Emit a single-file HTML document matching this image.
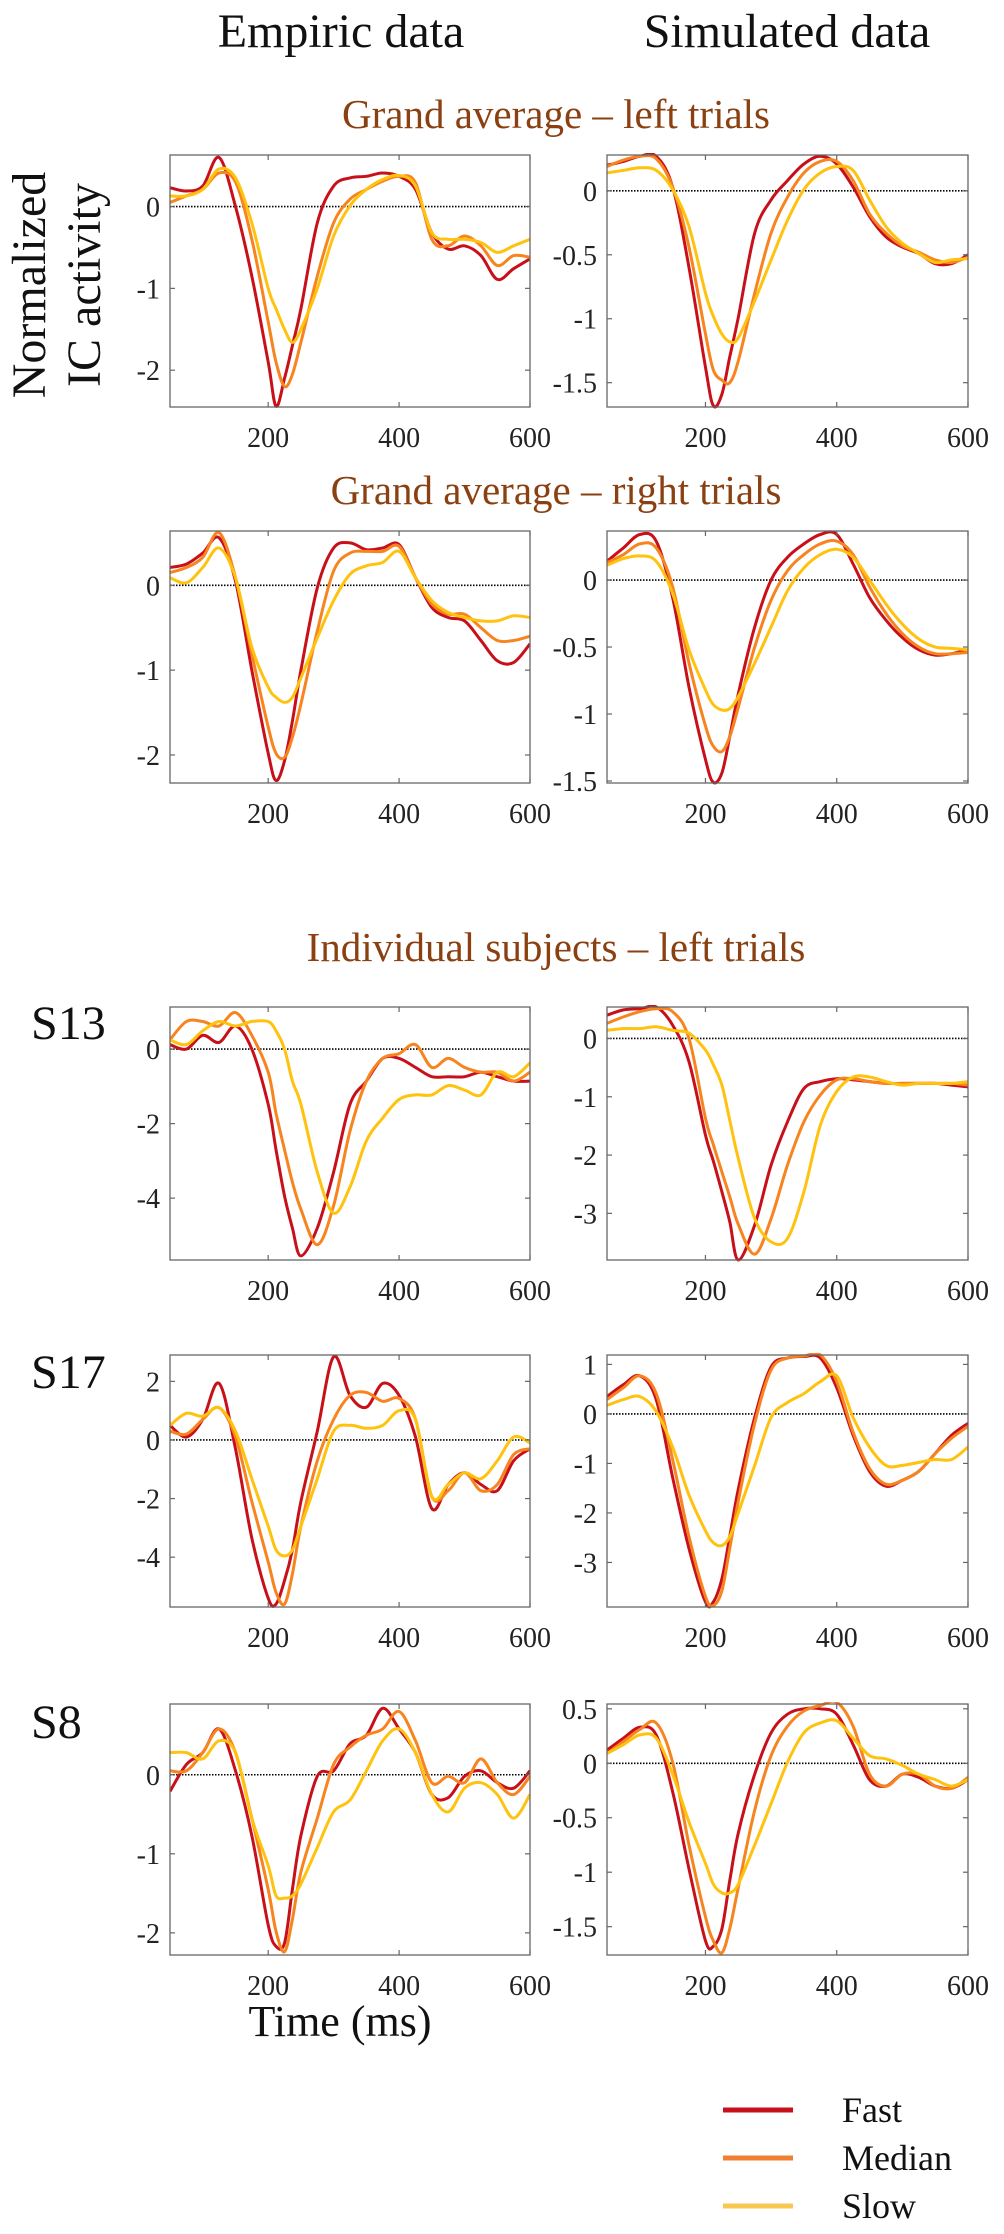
<!DOCTYPE html>
<html><head><meta charset="utf-8"><style>
html,body{margin:0;padding:0;background:#fff;}
svg{display:block;}
text{font-family:"Liberation Serif",serif;}
</style></head><body>
<svg id="fig" width="1004" height="2234" viewBox="0 0 1004 2234" xmlns="http://www.w3.org/2000/svg">
<text x="341" y="47" font-size="48" text-anchor="middle" fill="#111">Empiric data</text>
<text x="787" y="47" font-size="48" text-anchor="middle" fill="#111">Simulated data</text>
<text x="556" y="128" font-size="41" text-anchor="middle" fill="#8a4010">Grand average – left trials</text>
<text x="556" y="504" font-size="41" text-anchor="middle" fill="#8a4010">Grand average – right trials</text>
<text x="556" y="961" font-size="41" text-anchor="middle" fill="#8a4010">Individual subjects – left trials</text>
<text transform="translate(45,285) rotate(-90)" font-size="48" text-anchor="middle" fill="#111">Normalized</text>
<text transform="translate(100,285) rotate(-90)" font-size="48" text-anchor="middle" fill="#111">IC activity</text>
<text x="31" y="1039" font-size="48" fill="#111">S13</text>
<text x="31" y="1388" font-size="48" fill="#111">S17</text>
<text x="31" y="1738" font-size="48" fill="#111">S8</text>
<text x="340" y="2036" font-size="44" text-anchor="middle" fill="#111">Time (ms)</text>
<g>
<line x1="723" y1="2110" x2="793" y2="2110" stroke="#c8101a" stroke-width="5"/>
<text x="842" y="2122" font-size="36" fill="#111">Fast</text>
<line x1="723" y1="2158" x2="793" y2="2158" stroke="#f08030" stroke-width="5"/>
<text x="842" y="2170" font-size="36" fill="#111">Median</text>
<line x1="723" y1="2206" x2="793" y2="2206" stroke="#f8c850" stroke-width="5"/>
<text x="842" y="2218" font-size="36" fill="#111">Slow</text>
</g>
</svg>
<script>
const times = [50,75,100,125,150,175,200,212,225,237,250,275,300,325,350,375,400,425,450,475,500,525,550,575,600];
const xTicks = [200,400,600];
const seriesNames = ["fast","median","slow"];

const gaLeftEmpFast = [0.23,0.19,0.25,0.6,0.0,-0.85,-1.9,-2.44,-2.1,-1.7,-1.25,-0.2,0.25,0.35,0.37,0.41,0.37,0.21,-0.32,-0.52,-0.48,-0.6,-0.89,-0.76,-0.64];
const gaLeftEmpMedian = [0.05,0.13,0.21,0.41,0.3,-0.4,-1.41,-1.9,-2.2,-2.05,-1.66,-0.85,-0.2,0.09,0.21,0.31,0.37,0.29,-0.4,-0.48,-0.36,-0.48,-0.72,-0.6,-0.62];
const gaLeftEmpSlow = [0.13,0.13,0.21,0.46,0.35,-0.2,-1.0,-1.25,-1.5,-1.66,-1.5,-1.0,-0.36,0.01,0.21,0.33,0.38,0.25,-0.32,-0.4,-0.4,-0.44,-0.56,-0.48,-0.4];

const gaLeftSimFast = [0.2,0.23,0.27,0.27,0.03,-0.6,-1.38,-1.68,-1.59,-1.3,-0.99,-0.33,-0.07,0.08,0.21,0.27,0.21,0.03,-0.2,-0.36,-0.44,-0.49,-0.57,-0.57,-0.5];
const gaLeftSimMedian = [0.19,0.24,0.27,0.25,0.03,-0.44,-1.12,-1.4,-1.48,-1.5,-1.33,-0.8,-0.33,-0.05,0.14,0.23,0.23,0.08,-0.18,-0.33,-0.43,-0.48,-0.54,-0.56,-0.52];
const gaLeftSimSlow = [0.14,0.16,0.18,0.16,0.01,-0.28,-0.8,-0.98,-1.12,-1.18,-1.15,-0.86,-0.54,-0.23,0.01,0.14,0.19,0.16,-0.07,-0.28,-0.41,-0.49,-0.56,-0.54,-0.53];

const gaRightEmpFast = [0.21,0.25,0.38,0.56,0.05,-1.0,-1.98,-2.3,-2.07,-1.6,-1.0,-0.03,0.44,0.5,0.42,0.44,0.48,0.09,-0.26,-0.38,-0.42,-0.65,-0.89,-0.91,-0.69];
const gaRightEmpMedian = [0.15,0.21,0.33,0.62,0.09,-0.81,-1.67,-1.98,-2.03,-1.79,-1.4,-0.54,0.17,0.38,0.4,0.4,0.46,0.09,-0.22,-0.34,-0.34,-0.5,-0.65,-0.65,-0.6];
const gaRightEmpSlow = [0.09,0.03,0.21,0.44,0.09,-0.73,-1.2,-1.32,-1.38,-1.32,-1.09,-0.62,-0.18,0.13,0.23,0.27,0.4,0.09,-0.18,-0.32,-0.38,-0.42,-0.42,-0.36,-0.38];

const gaRightSimFast = [0.14,0.24,0.34,0.29,-0.13,-0.8,-1.34,-1.51,-1.44,-1.17,-0.85,-0.35,0,0.17,0.27,0.34,0.34,0.12,-0.13,-0.3,-0.43,-0.52,-0.56,-0.55,-0.52];
const gaRightSimMedian = [0.13,0.19,0.27,0.24,-0.05,-0.62,-1.09,-1.24,-1.28,-1.17,-0.95,-0.5,-0.15,0.07,0.19,0.27,0.29,0.19,-0.05,-0.25,-0.4,-0.5,-0.55,-0.55,-0.54];
const gaRightSimSlow = [0.11,0.16,0.18,0.14,-0.1,-0.52,-0.82,-0.93,-0.97,-0.96,-0.87,-0.62,-0.35,-0.08,0.09,0.19,0.23,0.17,0,-0.18,-0.33,-0.44,-0.5,-0.51,-0.52];

const s13EmpFast = [0.12,0,0.37,0.18,0.62,0,-1.48,-2.7,-3.94,-4.8,-5.55,-4.8,-3.3,-1.48,-0.86,-0.25,-0.25,-0.49,-0.74,-0.74,-0.74,-0.62,-0.74,-0.86,-0.86];
const s13EmpMedian = [0.25,0.74,0.74,0.62,0.98,0.37,-0.62,-1.72,-2.7,-3.57,-4.3,-5.25,-4.2,-2.2,-0.86,-0.25,-0.12,0.12,-0.49,-0.25,-0.49,-0.62,-0.62,-0.86,-0.62];
const s13EmpSlow = [0.25,0.12,0.49,0.74,0.62,0.74,0.74,0.49,0,-0.86,-1.48,-3.3,-4.4,-3.7,-2.46,-1.85,-1.35,-1.23,-1.23,-0.98,-1.1,-1.23,-0.62,-0.74,-0.37];

const s13SimFast = [0.4,0.49,0.51,0.54,0.23,-0.4,-1.66,-2.1,-2.63,-3.14,-3.8,-3.2,-2.17,-1.43,-0.86,-0.74,-0.69,-0.71,-0.74,-0.77,-0.77,-0.77,-0.77,-0.8,-0.83];
const s13SimMedian = [0.26,0.37,0.46,0.51,0.46,0,-1.37,-1.82,-2.29,-2.71,-3.19,-3.7,-3.09,-2.17,-1.43,-0.97,-0.71,-0.69,-0.74,-0.77,-0.77,-0.77,-0.77,-0.77,-0.8];
const s13SimSlow = [0.14,0.17,0.17,0.2,0.14,0.09,-0.2,-0.45,-0.8,-1.4,-2.06,-3.09,-3.49,-3.43,-2.63,-1.49,-0.91,-0.66,-0.66,-0.74,-0.8,-0.77,-0.77,-0.77,-0.74];

const s17EmpFast = [0.5,0.1,0.7,1.93,-0.3,-3.35,-5.4,-5.6,-4.8,-3.75,-2.1,0.3,2.84,1.52,1.12,1.93,1.52,0.1,-2.34,-1.52,-1.12,-1.52,-1.73,-0.71,-0.3];
const s17EmpMedian = [0.3,0.2,0.7,1.1,0.1,-2.1,-4.16,-5.2,-5.6,-4.57,-2.94,-0.71,0.7,1.52,1.62,1.32,1.42,0.71,-1.93,-1.73,-1.12,-1.73,-1.52,-0.5,-0.3];
const s17EmpSlow = [0.5,0.91,0.81,1.1,0.3,-1.32,-2.94,-3.75,-3.96,-3.75,-2.94,-1.32,0.3,0.5,0.4,0.5,1.0,0.7,-1.93,-1.52,-1.12,-1.32,-0.71,0.1,-0.1];

const s17SimFast = [0.35,0.59,0.77,0.29,-1.28,-2.72,-3.8,-3.8,-3.33,-2.48,-1.52,-0.07,0.95,1.13,1.16,1.13,0.53,-0.43,-1.16,-1.46,-1.34,-1.16,-0.8,-0.43,-0.19];
const s17SimMedian = [0.29,0.53,0.77,0.41,-0.92,-2.48,-3.69,-3.87,-3.57,-2.72,-1.76,-0.19,0.89,1.13,1.17,1.19,0.65,-0.37,-1.1,-1.42,-1.34,-1.16,-0.8,-0.49,-0.25];
const s17SimSlow = [0.17,0.29,0.35,0.05,-0.67,-1.64,-2.36,-2.6,-2.66,-2.48,-2.0,-1.04,-0.07,0.23,0.41,0.65,0.77,-0.07,-0.67,-1.04,-1.04,-0.98,-0.92,-0.92,-0.67];

const s8EmpFast = [-0.21,0.13,0.28,0.58,0.05,-0.77,-1.9,-2.17,-2.13,-1.45,-0.77,-0.02,0.05,0.39,0.5,0.84,0.58,0.28,-0.25,-0.29,-0.02,0.05,-0.1,-0.17,0.05];
const s8EmpMedian = [0.05,0.05,0.28,0.58,0.28,-0.55,-1.45,-1.98,-2.24,-1.83,-1.23,-0.55,0.13,0.35,0.5,0.58,0.8,0.43,-0.1,-0.02,-0.1,0.2,-0.1,-0.25,-0.02];
const s8EmpSlow = [0.28,0.28,0.2,0.43,0.28,-0.55,-1.15,-1.53,-1.56,-1.53,-1.38,-0.92,-0.47,-0.32,0.05,0.43,0.58,0.28,-0.25,-0.47,-0.17,-0.1,-0.25,-0.55,-0.25];

const s8SimFast = [0.12,0.23,0.33,0.26,-0.26,-0.97,-1.63,-1.68,-1.52,-1.08,-0.64,-0.1,0.28,0.45,0.5,0.5,0.45,0.17,-0.15,-0.21,-0.1,-0.13,-0.21,-0.23,-0.15];
const s8SimMedian = [0.09,0.2,0.31,0.37,0.01,-0.75,-1.41,-1.63,-1.74,-1.52,-1.14,-0.43,0.07,0.34,0.48,0.53,0.56,0.34,-0.1,-0.21,-0.1,-0.1,-0.21,-0.23,-0.13];
const s8SimSlow = [0.09,0.17,0.26,0.23,-0.1,-0.54,-0.92,-1.11,-1.19,-1.19,-1.11,-0.75,-0.37,0.01,0.28,0.37,0.39,0.23,0.07,0.04,-0.02,-0.1,-0.15,-0.21,-0.15];

const yTicksGaLeftEmp = [0,-1,-2];
const yTicksGaLeftSim = [0,-0.5,-1,-1.5];
const yTicksGaRightEmp = [0,-1,-2];
const yTicksGaRightSim = [0,-0.5,-1,-1.5];
const yTicksS13Emp = [0,-2,-4];
const yTicksS13Sim = [0,-1,-2,-3];
const yTicksS17Emp = [2,0,-2,-4];
const yTicksS17Sim = [1,0,-1,-2,-3];
const yTicksS8Emp = [0,-1,-2];
const yTicksS8Sim = [0.5,0,-0.5,-1,-1.5];

const colors = {fast:"#c8101a", median:"#f7841f", slow:"#ffc20e"};
const NS = "http://www.w3.org/2000/svg";
const svg = document.getElementById('fig');

const panels = [
 {name:"ga-left-empiric", x:170,y:155,w:360,h:252,yMin:-2.45,yMax:0.63,ticks:yTicksGaLeftEmp,s:[gaLeftEmpFast,gaLeftEmpMedian,gaLeftEmpSlow]},
 {name:"ga-left-simulated", x:607,y:155,w:361,h:252,yMin:-1.69,yMax:0.28,ticks:yTicksGaLeftSim,s:[gaLeftSimFast,gaLeftSimMedian,gaLeftSimSlow]},
 {name:"ga-right-empiric", x:170,y:531,w:360,h:252,yMin:-2.33,yMax:0.64,ticks:yTicksGaRightEmp,s:[gaRightEmpFast,gaRightEmpMedian,gaRightEmpSlow]},
 {name:"ga-right-simulated", x:607,y:531,w:361,h:252,yMin:-1.515,yMax:0.366,ticks:yTicksGaRightSim,s:[gaRightSimFast,gaRightSimMedian,gaRightSimSlow]},
 {name:"s13-empiric", x:170,y:1007,w:360,h:253,yMin:-5.66,yMax:1.13,ticks:yTicksS13Emp,s:[s13EmpFast,s13EmpMedian,s13EmpSlow]},
 {name:"s13-simulated", x:607,y:1007,w:361,h:253,yMin:-3.8,yMax:0.54,ticks:yTicksS13Sim,s:[s13SimFast,s13SimMedian,s13SimSlow]},
 {name:"s17-empiric", x:170,y:1355,w:360,h:252,yMin:-5.7,yMax:2.9,ticks:yTicksS17Emp,s:[s17EmpFast,s17EmpMedian,s17EmpSlow]},
 {name:"s17-simulated", x:607,y:1355,w:361,h:252,yMin:-3.9,yMax:1.19,ticks:yTicksS17Sim,s:[s17SimFast,s17SimMedian,s17SimSlow]},
 {name:"s8-empiric", x:170,y:1704,w:360,h:251,yMin:-2.28,yMax:0.895,ticks:yTicksS8Emp,s:[s8EmpFast,s8EmpMedian,s8EmpSlow]},
 {name:"s8-simulated", x:607,y:1704,w:361,h:251,yMin:-1.76,yMax:0.544,ticks:yTicksS8Sim,s:[s8SimFast,s8SimMedian,s8SimSlow]}
];

function mk(tag, attrs){ const e=document.createElementNS(NS,tag); for(const k in attrs) e.setAttribute(k,attrs[k]); return e; }
function smoothPath(pts){
  let d = "M"+pts[0][0].toFixed(1)+","+pts[0][1].toFixed(1);
  for(let i=0;i<pts.length-1;i++){
    const p0=pts[Math.max(0,i-1)], p1=pts[i], p2=pts[i+1], p3=pts[Math.min(pts.length-1,i+2)];
    const c1x=p1[0]+(p2[0]-p0[0])/6, c1y=p1[1]+(p2[1]-p0[1])/6;
    const c2x=p2[0]-(p3[0]-p1[0])/6, c2y=p2[1]-(p3[1]-p1[1])/6;
    d += " C"+c1x.toFixed(1)+","+c1y.toFixed(1)+" "+c2x.toFixed(1)+","+c2y.toFixed(1)+" "+p2[0].toFixed(1)+","+p2[1].toFixed(1);
  }
  return d;
}

panels.forEach(p=>{
  const xs = t => p.x + (t-50)/550*p.w;
  const ys = v => p.y + (p.yMax - v)/(p.yMax - p.yMin)*p.h;
  const g = mk('g',{});
  
  
  svg.appendChild(g);
  const clipId = 'clip-'+p.name;
  const cp = mk('clipPath',{id:clipId});
  cp.appendChild(mk('rect',{x:p.x,y:p.y-2,width:p.w,height:p.h+4}));
  g.appendChild(cp);
  // zero line
  const zl = mk('line',{x1:p.x,x2:p.x+p.w,y1:ys(0),y2:ys(0),stroke:"#000","stroke-width":1.6,"stroke-dasharray":"1.5,1.5"});
  
  
  g.appendChild(zl);
  // series
  p.s.forEach((vals,si)=>{
    const pts = times.map((t,i)=>[xs(t), ys(vals[i])]);
    const path = mk('path',{d:smoothPath(pts),fill:"none",stroke:colors[seriesNames[si]],"stroke-width":3,"stroke-linejoin":"round","clip-path":"url(#"+clipId+")"});
    
    
    g.appendChild(path);
  });
  // frame
  const fr = mk('rect',{x:p.x,y:p.y,width:p.w,height:p.h,fill:"none",stroke:"#666","stroke-width":1.3});
  
  
  g.appendChild(fr);
  // x ticks
  xTicks.forEach(t=>{
    const x = xs(t);
    g.appendChild(mk('line',{x1:x,x2:x,y1:p.y+p.h,y2:p.y+p.h-5,stroke:"#666","stroke-width":1.2}));
    g.appendChild(mk('line',{x1:x,x2:x,y1:p.y,y2:p.y+5,stroke:"#666","stroke-width":1.2}));
    const tx = mk('text',{x:x,y:p.y+p.h+40,"font-size":28,"text-anchor":"middle",fill:"#222"});
    tx.textContent = t;
    
    
    g.appendChild(tx);
  });
  // y ticks
  p.ticks.forEach(v=>{
    const y = ys(v);
    g.appendChild(mk('line',{x1:p.x,x2:p.x+5,y1:y,y2:y,stroke:"#666","stroke-width":1.2}));
    g.appendChild(mk('line',{x1:p.x+p.w,x2:p.x+p.w-5,y1:y,y2:y,stroke:"#666","stroke-width":1.2}));
    const ty = mk('text',{x:p.x-10,y:y+10,"font-size":28,"text-anchor":"end",fill:"#222"});
    ty.textContent = String(v);
    
    
    g.appendChild(ty);
  });
});
</script>
</body></html>
